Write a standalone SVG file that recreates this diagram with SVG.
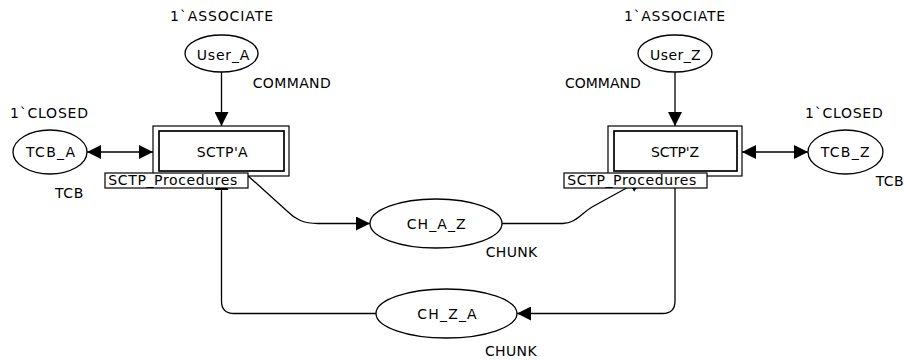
<svg xmlns="http://www.w3.org/2000/svg" width="904" height="360" viewBox="0 0 904 360">
  <defs>
    <marker id="head" viewBox="0 0 14 14" markerWidth="14" markerHeight="14" markerUnits="userSpaceOnUse" refX="14" refY="7" orient="auto-start-reverse">
      <path d="M0,0 L14,7 L0,14 z" fill="#000"/>
    </marker>
  </defs>
  <style>
    text { font-family: "DejaVu Sans", "Liberation Sans", sans-serif; font-size: 14px; fill: #000; }
    .place { fill: #fff; stroke: #000; stroke-width: 1.3; }
    .outer { fill: #fff; stroke: #000; stroke-width: 1.2; }
    .inner { fill: #fff; stroke: #000; stroke-width: 1.7; }
    .tag { fill: #fff; stroke: #000; stroke-width: 1.2; }
    .arc { fill: none; stroke: #000; stroke-width: 1.3; marker-end: url(#head); }
    .both { marker-start: url(#head); }
  </style>
  <rect width="904" height="360" fill="#fff"/>

  <!-- arcs between places and substitution transitions -->
  <g id="connectors">
    <path class="arc" d="M221.5,72 L221.5,126"/>
    <path class="arc" d="M675,72 L675,126"/>
    <path class="arc both" d="M87,152 L153,152"/>
    <path class="arc both" d="M742,152 L808,152"/>
    <path class="arc" d="M246,174 L287,211 C295,219 303,223.5 318,223.5 L370,223.5"/>
    <path class="arc" d="M502,223.5 L563,223.5 C575,223.5 582,213 592,207 L643,179"/>
    <path class="arc" d="M675,176 L675,301 Q675,313.5 662.5,313.5 L517,313.5"/>
    <path class="arc" d="M376,313.5 L234,313.5 Q221.5,313.5 221.5,301 L221.5,176"/>
  </g>

  <g id="User_A">
    <text x="170" y="20.5" textLength="103" lengthAdjust="spacing">1`ASSOCIATE</text>
    <ellipse class="place" cx="221.5" cy="53.5" rx="36.5" ry="18.5"/>
    <text x="196.7" y="59.5" textLength="52.6" lengthAdjust="spacing">User_A</text>
    <text x="252.7" y="88.3" textLength="78" lengthAdjust="spacing">COMMAND</text>
  </g>

  <g id="User_Z">
    <text x="624" y="20.5" textLength="101" lengthAdjust="spacing">1`ASSOCIATE</text>
    <ellipse class="place" cx="675" cy="53.5" rx="37" ry="18.5"/>
    <text x="650" y="59.5" textLength="50.7" lengthAdjust="spacing">User_Z</text>
    <text x="565" y="88.3" textLength="75.7" lengthAdjust="spacing">COMMAND</text>
  </g>

  <g id="TCB_A">
    <text x="10" y="117.5" textLength="78" lengthAdjust="spacing">1`CLOSED</text>
    <ellipse class="place" cx="50" cy="152" rx="37" ry="22"/>
    <text x="26" y="157" textLength="49" lengthAdjust="spacing">TCB_A</text>
    <text x="55" y="198" textLength="28.3" lengthAdjust="spacing">TCB</text>
  </g>

  <g id="TCB_Z">
    <text x="805" y="117.5" textLength="77.7" lengthAdjust="spacing">1`CLOSED</text>
    <ellipse class="place" cx="845.5" cy="152" rx="37.5" ry="22"/>
    <text x="820.7" y="157" textLength="49" lengthAdjust="spacing">TCB_Z</text>
    <text x="875.7" y="185.5" textLength="28" lengthAdjust="spacing">TCB</text>
  </g>

  <g id="SCTP_A">
    <rect class="outer" x="153" y="126" width="136" height="50"/>
    <rect class="inner" x="159" y="131" width="125" height="40"/>
    <text x="196.7" y="157" textLength="51" lengthAdjust="spacing">SCTP'A</text>
    <rect class="tag" x="105" y="173" width="143" height="15"/>
    <text x="108.3" y="185.3" textLength="129" lengthAdjust="spacing">SCTP_Procedures</text>
  </g>

  <g id="SCTP_Z">
    <rect class="outer" x="608" y="126" width="134" height="50"/>
    <rect class="inner" x="614" y="131" width="123" height="40"/>
    <text x="651" y="157" textLength="48" lengthAdjust="spacing">SCTP'Z</text>
    <rect class="tag" x="564" y="173" width="143" height="15"/>
    <text x="567.3" y="185.3" textLength="129" lengthAdjust="spacing">SCTP_Procedures</text>
  </g>

  <g id="CH_A_Z">
    <ellipse class="place" cx="436" cy="223.5" rx="66" ry="24.5"/>
    <text x="406.7" y="229.3" textLength="59" lengthAdjust="spacing">CH_A_Z</text>
    <text x="485.7" y="257.2" textLength="51.6" lengthAdjust="spacing">CHUNK</text>
  </g>

  <g id="CH_Z_A">
    <ellipse class="place" cx="446.5" cy="313.5" rx="70.5" ry="24.5"/>
    <text x="417.3" y="319.3" textLength="59.4" lengthAdjust="spacing">CH_Z_A</text>
    <text x="485" y="355.7" textLength="51.6" lengthAdjust="spacing">CHUNK</text>
  </g>
</svg>
